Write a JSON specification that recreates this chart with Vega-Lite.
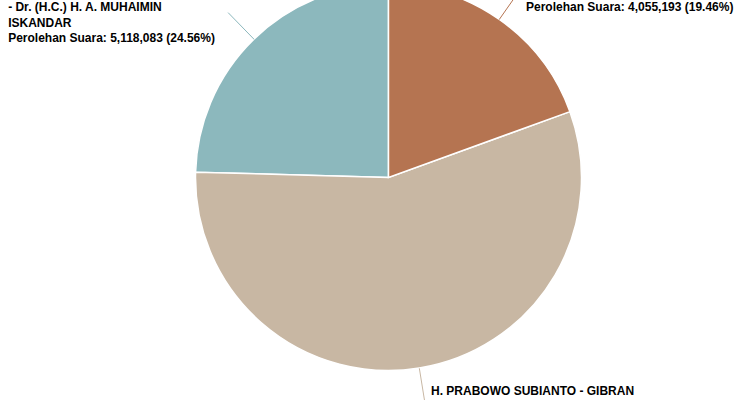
{
  "$schema": "https://vega.github.io/schema/vega-lite/v6.json",
  "width": 703,
  "height": 355,
  "autosize": {"type": "none"},
  "padding": {"left": 37, "top": 0, "right": 0, "bottom": 45},
  "background": "white",
  "config": {"view": {"stroke": null}},
  "data": {
    "values": [
      {"no": 1, "pasangan": "H. ANIES RASYID BASWEDAN, Ph.D. - Dr. (H.C.) H. A. MUHAIMIN ISKANDAR", "suara": 5118083, "label": "H. ANIES RASYID BASWEDAN, Ph.D.\n- Dr. (H.C.) H. A. MUHAIMIN\nISKANDAR\nPerolehan Suara: 5,118,083 (24.56%)"},
      {"no": 2, "pasangan": "H. PRABOWO SUBIANTO - GIBRAN RAKABUMING RAKA", "suara": 11665500, "label": "H. PRABOWO SUBIANTO - GIBRAN\nRAKABUMING RAKA\nPerolehan Suara: 11,665,500 (55.98%)"},
      {"no": 3, "pasangan": "H. GANJAR PRANOWO, S.H., M.I.P. - Prof. Dr. H. M. MAHFUD MD", "suara": 4055193, "label": "H. GANJAR PRANOWO, S.H., M.I.P. -\nProf. Dr. H. M. MAHFUD MD\nPerolehan Suara: 4,055,193 (19.46%)"}
    ]
  },
  "encoding": {
    "theta": {"field": "suara", "type": "quantitative", "stack": true},
    "order": {"field": "no", "type": "quantitative", "sort": "descending"}
  },
  "layer": [
    {
      "mark": {"type": "arc", "outerRadius": 193, "stroke": "white", "strokeWidth": 1.5},
      "encoding": {
        "color": {
          "field": "pasangan",
          "type": "nominal",
          "scale": {
            "domain": ["H. ANIES RASYID BASWEDAN, Ph.D. - Dr. (H.C.) H. A. MUHAIMIN ISKANDAR", "H. PRABOWO SUBIANTO - GIBRAN RAKABUMING RAKA", "H. GANJAR PRANOWO, S.H., M.I.P. - Prof. Dr. H. M. MAHFUD MD"],
            "range": ["#8CB8BD", "#C8B7A3", "#B57451"]
          },
          "legend": null
        }
      }
    },
    {
      "mark": {
        "type": "arc",
        "filled": false,
        "innerRadius": 193,
        "outerRadius": 230,
        "strokeWidth": 1,
        "thetaOffset": {"expr": "-(scale('theta', datum.suara_end) - scale('theta', datum.suara_start)) / 2"},
        "strokeDash": {"expr": "[0, 423 * abs(scale('theta', datum.suara_end) - scale('theta', datum.suara_start)) + 36.5, 38, 100000]"}
      },
      "encoding": {
        "color": {
          "field": "pasangan",
          "type": "nominal",
          "legend": null
        }
      }
    },
    {
      "mark": {"type": "text", "radius": 230, "align": "left", "baseline": "alphabetic", "dx": -220, "dy": -16.8, "font": "Liberation Sans", "fontSize": 12, "fontWeight": "bold", "lineBreak": "\n", "lineHeight": 15.5, "color": "#000000"},
      "encoding": {"text": {"condition": {"test": "datum.no === 1", "field": "label", "type": "nominal"}, "value": ""}}
    },
    {
      "mark": {"type": "text", "radius": 230, "align": "left", "baseline": "alphabetic", "dx": 5.8, "dy": -9.3, "font": "Liberation Sans", "fontSize": 12, "fontWeight": "bold", "lineBreak": "\n", "lineHeight": 15.5, "color": "#000000"},
      "encoding": {"text": {"condition": {"test": "datum.no === 2", "field": "label", "type": "nominal"}, "value": ""}}
    },
    {
      "mark": {"type": "text", "radius": 230, "align": "left", "baseline": "alphabetic", "dx": 5.5, "dy": -9.4, "font": "Liberation Sans", "fontSize": 12, "fontWeight": "bold", "lineBreak": "\n", "lineHeight": 15.5, "color": "#000000"},
      "encoding": {"text": {"condition": {"test": "datum.no === 3", "field": "label", "type": "nominal"}, "value": ""}}
    }
  ]
}
